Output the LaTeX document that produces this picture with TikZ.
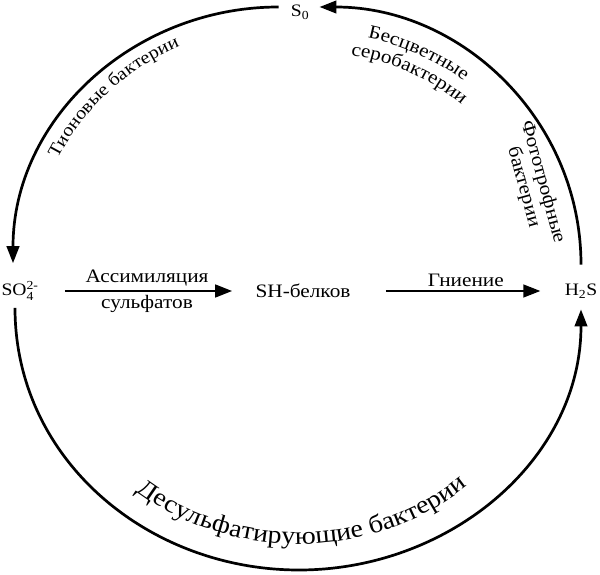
\documentclass[tikz,border=0pt]{standalone}
\usepackage{amsmath}
\usepackage{fontspec}
\setmainfont{Liberation Serif}[FakeStretch=1.12]
\usetikzlibrary{arrows.meta,positioning,decorations.text}

\begin{document}
\begin{tikzpicture}[x=1pt, y=1pt, node distance=283pt, line width=2.7pt, ->,
	>={Triangle[length=17pt,width=12.5pt]}]

	\tikzstyle{chem}=[inner sep=3pt, font=\fontsize{17.5}{20}\selectfont]
	\tikzstyle{proc}=[inner sep=3pt, font=\fontsize{19}{20}\selectfont]
	\tikzstyle{curved}=[decorate, decoration={text along path, text align=center}]
	\useasboundingbox (0,0) rectangle (600,574);

	\node[chem] (SO4) at (20,283) {SO$^{\text{2-}}_{\text{4}}$};
	\node[proc] (SH) [right of=SO4] {SH-белков};
	\node[chem] (H2S) [right of=SH, node distance=278pt] {H$_{\text{2}}$S};
	\node[chem, inner xsep=11pt] (S0) at (300,562) {S$_{\text{0}}$};
	\coordinate (bottom) at (299,4);
	% centres of the ring arcs
	\coordinate (lc) at (280,309);
	\coordinate (rc) at (318,309);
	\coordinate (bc) at (298.5,267);

	% middle line
	\path (SO4) edge[shorten <=22pt, shorten >=19pt] node[proc, above] {Ассимиляция} node[proc, below] {сульфатов} (SH);
	\path (SH) edge[shorten <=31pt, shorten >=20pt] node[proc, above, pos=0.54] {Гниение} (H2S);

	% the ring
	\draw ([yshift=5pt]S0.west) to[out=180, in=90] ([xshift=-7pt, yshift=14pt]SO4.north);
	\draw ([xshift=-5pt, yshift=-3pt]SO4.south) to[out=-90, in=180] (bottom) to[out=0, in=-90] ([yshift=-7pt]H2S.south);
	\draw ([yshift=15pt]H2S.north) to[out=90, in=0] ([xshift=-2pt, yshift=5pt]S0.east);

	% bacteria along the ring
	\path[curved, decoration={text={|\fontsize{18}{20}\selectfont|Тионовые бактерии}}]
		(lc) ++(170:248 and 239) arc[start angle=170, end angle=98, x radius=248, y radius=239];
	\path[curved, decoration={text={|\fontsize{19}{20}\selectfont|Бесцветные}}]
		(rc) ++(100:239 and 232) arc[start angle=100, end angle=30, x radius=239, y radius=232];
	\path[curved, decoration={text={|\fontsize{19}{20}\selectfont|серобактерии}}]
		(rc) ++(100:219 and 212) arc[start angle=100, end angle=30, x radius=219, y radius=212];
	\node[proc, rotate=-74.6, align=center] (photo) at (533,389.5) {Фототрофные\\бактерии};
	\path[curved, decoration={text={|\fontsize{25}{28}\selectfont|Десульфатирующие бактерии}}]
		(bc) ++(200:257.5 and 237) arc[start angle=200, end angle=342, x radius=257.5, y radius=237];

\end{tikzpicture}
\end{document}
